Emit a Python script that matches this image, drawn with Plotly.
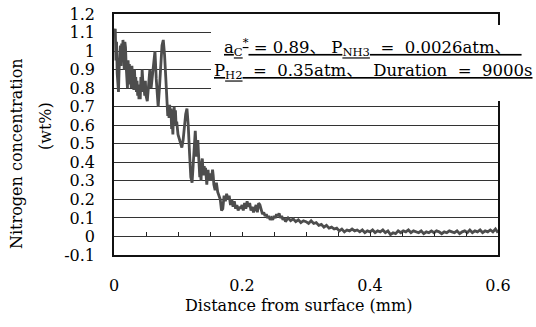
import plotly.graph_objects as go

distance_mm = [
    0.000, 0.002, 0.003, 0.004, 0.005, 0.006, 0.007, 0.008, 0.009, 0.010,
    0.011, 0.012, 0.013, 0.014, 0.015, 0.016, 0.017, 0.018, 0.019, 0.020,
    0.021, 0.022, 0.023, 0.024, 0.025, 0.026, 0.027, 0.028, 0.029, 0.030,
    0.031, 0.032, 0.033, 0.034, 0.035, 0.036, 0.037, 0.038, 0.039, 0.040,
    0.041, 0.042, 0.043, 0.044, 0.045, 0.046, 0.047, 0.048, 0.049, 0.050,
    0.052, 0.054, 0.056, 0.058, 0.060, 0.062, 0.064, 0.066, 0.068, 0.069,
    0.071, 0.073, 0.075, 0.077, 0.079, 0.081, 0.083, 0.084, 0.085, 0.086,
    0.087, 0.088, 0.089, 0.090, 0.091, 0.092, 0.093, 0.094, 0.095, 0.096,
    0.097, 0.098, 0.100, 0.102, 0.104, 0.106, 0.108, 0.110, 0.112, 0.114,
    0.116, 0.118, 0.120, 0.122, 0.124, 0.126, 0.127, 0.128, 0.129, 0.130,
    0.131, 0.132, 0.133, 0.134, 0.135, 0.136, 0.137, 0.138, 0.139, 0.140,
    0.141, 0.142, 0.143, 0.144, 0.145, 0.146, 0.147, 0.148, 0.150, 0.152,
    0.154, 0.155, 0.156, 0.158, 0.160, 0.162, 0.164, 0.166, 0.168, 0.170,
    0.172, 0.174, 0.176, 0.178, 0.180, 0.182, 0.184, 0.186, 0.188, 0.190,
    0.192, 0.194, 0.196, 0.198, 0.200, 0.202, 0.204, 0.206, 0.208, 0.210,
    0.212, 0.214, 0.216, 0.218, 0.220, 0.222, 0.224, 0.226, 0.228, 0.230,
    0.232, 0.234, 0.236, 0.238, 0.240, 0.242, 0.244, 0.246, 0.248, 0.250,
    0.252, 0.254, 0.256, 0.258, 0.260, 0.262, 0.264, 0.266, 0.268, 0.270,
    0.272, 0.276, 0.280, 0.284, 0.288, 0.292, 0.296, 0.300, 0.304, 0.308,
    0.312, 0.316, 0.320, 0.324, 0.328, 0.332, 0.336, 0.340, 0.344, 0.348,
    0.352, 0.356, 0.360, 0.364, 0.368, 0.372, 0.376, 0.380, 0.384, 0.388,
    0.392, 0.396, 0.400, 0.404, 0.408, 0.412, 0.416, 0.420, 0.424, 0.428,
    0.432, 0.436, 0.440, 0.444, 0.448, 0.452, 0.456, 0.460, 0.464, 0.468,
    0.472, 0.476, 0.480, 0.484, 0.488, 0.492, 0.496, 0.500, 0.504, 0.508,
    0.512, 0.516, 0.520, 0.524, 0.528, 0.532, 0.536, 0.540, 0.544, 0.548,
    0.552, 0.556, 0.560, 0.564, 0.568, 0.572, 0.576, 0.580, 0.584, 0.588,
    0.592, 0.596, 0.600,
]

nitrogen_wt = [
    1.10, 1.12, 0.95, 1.05, 0.88, 0.80, 0.78, 0.90, 0.98, 1.03,
    0.92, 1.04, 0.96, 1.06, 1.00, 0.90, 1.05, 1.02, 0.92, 0.85,
    0.80, 0.95, 0.88, 0.93, 0.82, 0.90, 0.80, 0.92, 0.84, 0.88,
    0.79, 0.90, 0.82, 0.86, 0.78, 0.84, 0.76, 0.82, 0.74, 0.80,
    0.74, 0.86, 0.78, 0.90, 0.84, 0.78, 0.80, 0.76, 0.84, 0.76,
    0.73, 0.82, 0.90, 0.80, 0.88, 0.96, 1.00, 0.85, 0.72, 0.70,
    0.80, 0.95, 1.03, 1.06, 0.98, 0.85, 0.72, 0.65, 0.70, 0.64,
    0.71, 0.66, 0.69, 0.58, 0.62, 0.55, 0.66, 0.70, 0.64, 0.68,
    0.60, 0.62, 0.55, 0.53, 0.50, 0.48, 0.52, 0.60, 0.66, 0.69,
    0.60, 0.45, 0.32, 0.29, 0.40, 0.52, 0.57, 0.50, 0.43, 0.48,
    0.52, 0.45, 0.38, 0.32, 0.36, 0.30, 0.40, 0.42, 0.36, 0.33,
    0.38, 0.34, 0.37, 0.31, 0.28, 0.33, 0.36, 0.30, 0.34, 0.30,
    0.36, 0.33, 0.28, 0.25, 0.29, 0.24, 0.22, 0.20, 0.14, 0.15,
    0.22, 0.19, 0.23, 0.20, 0.22, 0.17, 0.20, 0.16, 0.19, 0.15,
    0.17, 0.14, 0.16, 0.15, 0.17, 0.14, 0.18, 0.15, 0.19, 0.16,
    0.18, 0.14, 0.16, 0.13, 0.15, 0.17, 0.13, 0.18, 0.17, 0.14,
    0.12, 0.13, 0.11, 0.12, 0.10, 0.11, 0.09, 0.10, 0.09, 0.11,
    0.10, 0.12, 0.11, 0.125, 0.10, 0.11, 0.09, 0.10, 0.08, 0.09,
    0.10, 0.085, 0.095, 0.08, 0.09, 0.075, 0.085, 0.08, 0.07, 0.085,
    0.07, 0.075, 0.06, 0.065, 0.05, 0.06, 0.045, 0.05, 0.04, 0.045,
    0.03, 0.04, 0.025, 0.035, 0.03, 0.04, 0.03, 0.035, 0.025, 0.035,
    0.02, 0.03, 0.025, 0.035, 0.02, 0.03, 0.025, 0.035, 0.02, 0.03,
    0.01, 0.02, 0.015, 0.03, 0.02, 0.03, 0.025, 0.035, 0.02, 0.03,
    0.025, 0.02, 0.03, 0.015, 0.025, 0.02, 0.03, 0.02, 0.03, 0.025,
    0.015, 0.025, 0.02, 0.03, 0.025, 0.02, 0.03, 0.015, 0.025, 0.03,
    0.02, 0.035, 0.02, 0.03, 0.025, 0.035, 0.02, 0.03, 0.025, 0.035,
    0.025, 0.04, 0.02,
]

x_tick_vals = [0, 0.2, 0.4, 0.6]
x_tick_text = ["0", "0.2", "0.4", "0.6"]
y_tick_vals = [-0.1, 0, 0.1, 0.2, 0.3, 0.4, 0.5, 0.6, 0.7, 0.8, 0.9, 1.0, 1.1, 1.2]
y_tick_text = ["-0.1", "0", "0.1", "0.2", "0.3", "0.4", "0.5", "0.6",
               "0.7", "0.8", "0.9", "1", "1.1", "1.2"]
minor_tick_vals = [0.05, 0.10, 0.15, 0.20, 0.25, 0.30, 0.35, 0.40, 0.45, 0.50, 0.55]

NB = "\u00a0"
title_y = "Nitrogen concentration"
title_y2 = "(wt%)"
title_x = "Distance from surface (mm)"
note_line1 = ("<u>a<sub>C</sub><sup>*</sup> = 0.89、" + NB + "P<sub>NH3</sub>" + NB + " = " + NB
              + "0.0026atm、" + NB + NB + "</u>")
note_line2 = ("<u>P<sub>H2</sub>" + NB + " = " + NB + "0.35atm、" + NB + NB
              + "Duration" + NB + " = " + NB + "9000s</u>")

FONT = "DejaVu Serif, Noto Sans CJK JP, serif"
W, H = 536, 327
L, R, T, B = 114, 38, 14, 72
ph = H - T - B
pw = W - L - R


def px(xp):
    return (xp - L) / pw


def py(yp):
    return (H - B - yp) / ph


fig = go.Figure()
fig.add_trace(go.Scatter(
    x=distance_mm, y=nitrogen_wt, mode="lines",
    line=dict(color="#4d4d4d", width=2.8),
    showlegend=False, hoverinfo="skip",
))
# invisible trace on second x axis for minor ticks along y=0
fig.add_trace(go.Scatter(x=[0, 0.6], y=[0, 0], xaxis="x2", mode="lines",
                         line=dict(width=0), showlegend=False, hoverinfo="skip"))

fig.update_layout(
    width=W, height=H,
    margin=dict(l=L, r=R, t=T, b=B, autoexpand=False),
    paper_bgcolor="white", plot_bgcolor="white",
    font=dict(family=FONT, size=16, color="black"),
    xaxis=dict(range=[0, 0.6], tickvals=x_tick_vals, ticktext=x_tick_text,
               showgrid=False, zeroline=False, ticks="", automargin=False,
               showline=True, linecolor="#111", linewidth=1.5, mirror=True,
               ticklabelstandoff=15, tickfont=dict(size=16)),
    xaxis2=dict(range=[0, 0.6], overlaying="x", anchor="free",
                position=1 / 13, tickvals=minor_tick_vals, showticklabels=False,
                ticks="inside", ticklen=4, tickwidth=1, tickcolor="#222",
                showgrid=False, zeroline=False, showline=False, side="bottom",
                automargin=False),
    yaxis=dict(range=[-0.1, 1.2], tickvals=y_tick_vals, ticktext=y_tick_text,
               showgrid=True, gridcolor="#333", gridwidth=1.4, zeroline=False,
               ticks="", showline=True, linecolor="#111", linewidth=1.5,
               mirror=True, ticklabelstandoff=14, tickfont=dict(size=16),
               automargin=False),
    shapes=[dict(type="rect", xref="paper", yref="paper",
                 x0=px(211), x1=px(W + 5), y0=py(101), y1=py(25),
                 fillcolor="white", line=dict(width=0), layer="above")],
    annotations=[
        dict(text=note_line1, xref="paper", yref="paper",
             x=px(222), y=py(47), xanchor="left", yanchor="middle",
             showarrow=False, font=dict(size=16.5, family=FONT)),
        dict(text=note_line2, xref="paper", yref="paper",
             x=px(212), y=py(71), xanchor="left", yanchor="middle",
             showarrow=False, font=dict(size=16.5, family=FONT)),
        dict(text=title_y, xref="paper", yref="paper",
             x=px(17), y=py(154), xanchor="center", yanchor="middle",
             textangle=-90, showarrow=False, font=dict(size=16, family=FONT)),
        dict(text=title_y2, xref="paper", yref="paper",
             x=px(45), y=py(126), xanchor="center", yanchor="middle",
             textangle=-90, showarrow=False, font=dict(size=16, family=FONT)),
        dict(text=title_x, xref="paper", yref="paper",
             x=px(298), y=py(305), xanchor="center", yanchor="middle",
             showarrow=False, font=dict(size=16, family=FONT)),
    ],
)

fig.write_html("out.html")
